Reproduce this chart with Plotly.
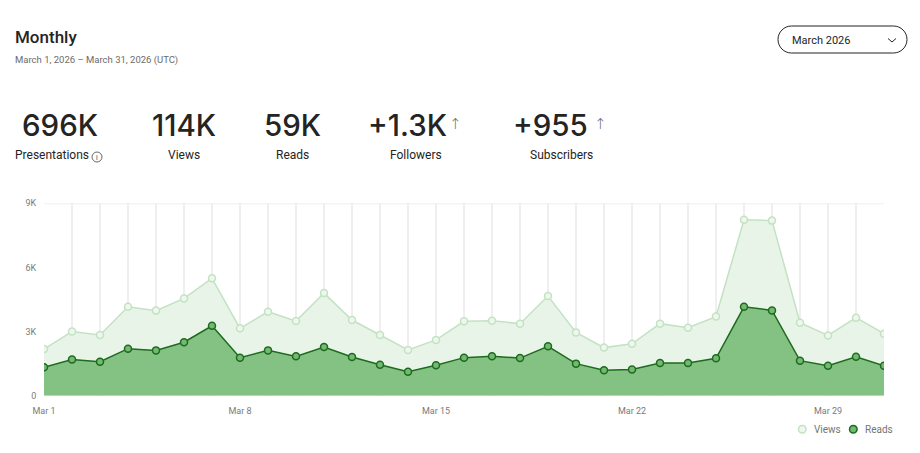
#Monthly stats dashboard - views and reads per day, March 2026
import pandas as pd
import plotly.graph_objects as go

W, H = 920, 453

# daily values
days = pd.date_range("2026-03-01", "2026-03-31", freq="D")
views = [2180, 3000, 2840, 4160, 3980, 4550, 5490, 3150, 3930, 3490,
         4800, 3540, 2840, 2140, 2610, 3480, 3510, 3370, 4660, 2960,
         2250, 2430, 3370, 3180, 3700, 8230, 8190, 3410, 2820, 3650, 2900]
reads = [1330, 1690, 1590, 2200, 2120, 2500, 3270, 1780, 2120, 1840,
         2280, 1810, 1450, 1120, 1420, 1780, 1840, 1760, 2310, 1500,
         1190, 1230, 1530, 1530, 1750, 4160, 3990, 1640, 1400, 1820, 1400]

y_tickvals = [0, 3000, 6000, 9000]
y_ticktext = ["0", "3K", "6K", "9K"]
x_tickvals = ["2026-03-01", "2026-03-08", "2026-03-15", "2026-03-22", "2026-03-29"]
x_ticktext = ["Mar 1", "Mar 8", "Mar 15", "Mar 22", "Mar 29"]

stat_values = ["696K", "114K", "59K", "+1.3K", "+955"]
stat_labels = ["Presentations", "Views", "Reads", "Followers", "Subscribers"]

FONT = "Roboto"
BIG_FONT = "Inter"
DARK = "#242424"
GREY = "#6b6b6b"
AXIS_GREY = "#7a7a7a"
GRID = "#efefef"


def px(x):
    return x / W


def py(y):
    return 1 - y / H


fig = go.Figure()

fig.add_trace(go.Scatter(
    x=days, y=views, name="Views",
    mode="lines+markers",
    fill="tozeroy", fillcolor="#e8f4e8",
    line=dict(color="#c3e2c3", width=1.5),
    marker=dict(size=7, color="#eef7ee", line=dict(color="#c3e2c3", width=1.5)),
    showlegend=False, hoverinfo="skip"))

fig.add_trace(go.Scatter(
    x=days, y=reads, name="Reads",
    mode="lines+markers",
    fill="tozeroy", fillcolor="#84c284",
    line=dict(color="#1d6b1d", width=1.5),
    marker=dict(size=7, color="#74b874", line=dict(color="#1d6b1d", width=1.5)),
    showlegend=False, hoverinfo="skip"))

"""$$$$$$$$$$$$$$$ FORMATTING $$$$$$$$$$$$$$$$"""
fig.update_layout(
    width=W, height=H,
    margin=dict(l=0, r=0, t=0, b=0, pad=0, autoexpand=False),
    paper_bgcolor="white", plot_bgcolor="white",
    font=dict(family=FONT, color=DARK),
    showlegend=False)

fig.update_xaxes(
    domain=[px(44), px(884)],
    range=["2026-03-01", "2026-03-31"],
    tickvals=x_tickvals, ticktext=x_ticktext,
    tickfont=dict(size=9, color=AXIS_GREY, family=FONT),
    ticks="outside", ticklen=6, tickcolor="rgba(0,0,0,0)",
    showgrid=True, gridcolor=GRID, gridwidth=2,
    minor=dict(dtick=86400000, tick0="2026-03-01", showgrid=True,
               gridcolor=GRID, gridwidth=2),
    showline=False, zeroline=False, fixedrange=True, automargin=False)

fig.update_yaxes(
    domain=[py(395.7), py(203.3)],
    range=[0, 9000],
    tickvals=y_tickvals, ticktext=y_ticktext,
    tickfont=dict(size=9, color=AXIS_GREY, family=FONT),
    ticks="outside", ticklen=5, tickcolor="rgba(0,0,0,0)",
    showgrid=False, zeroline=False, showline=False, fixedrange=True,
    automargin=False)

# top border line at 9K
fig.add_shape(type="line", xref="x domain", yref="y",
              x0=0, x1=1, y0=9000, y1=9000,
              line=dict(color=GRID, width=2), layer="below")

# header
fig.add_annotation(text="Monthly", x=px(13), y=py(37), xref="paper", yref="paper",
                   xanchor="left", yanchor="middle", showarrow=False,
                   font=dict(size=17, color=DARK, family=FONT, weight=500))
fig.add_annotation(text="March 1, 2026 – March 31, 2026 (UTC)", x=px(13), y=py(60),
                   xref="paper", yref="paper", xanchor="left", yanchor="middle",
                   showarrow=False, font=dict(size=9.5, color=GREY, family=FONT))

# dropdown pill
x0, x1, y0, y1 = 778, 907, 26, 53
r = (y1 - y0) / 2
k = 0.5523 * r
pts = [
    f"M {px(x0 + r)} {py(y0)}", f"L {px(x1 - r)} {py(y0)}",
    f"C {px(x1 - r + k)} {py(y0)} {px(x1)} {py(y0 + r - k)} {px(x1)} {py(y0 + r)}",
    f"C {px(x1)} {py(y0 + r + k)} {px(x1 - r + k)} {py(y1)} {px(x1 - r)} {py(y1)}",
    f"L {px(x0 + r)} {py(y1)}",
    f"C {px(x0 + r - k)} {py(y1)} {px(x0)} {py(y1 - r + k)} {px(x0)} {py(y1 - r)}",
    f"C {px(x0)} {py(y0 + r - k)} {px(x0 + r - k)} {py(y0)} {px(x0 + r)} {py(y0)}", "Z"]
fig.add_shape(type="path", xref="paper", yref="paper", path=" ".join(pts),
              line=dict(color=DARK, width=1), fillcolor="white")
fig.add_shape(type="path", xref="paper", yref="paper",
              path=f"M {px(888)} {py(38.5)} L {px(892)} {py(42)} L {px(896)} {py(38.5)}",
              line=dict(color=DARK, width=1))
fig.add_annotation(text="March 2026", x=px(790), y=py(40), xref="paper", yref="paper",
                   xanchor="left", yanchor="middle", showarrow=False,
                   font=dict(size=11, color=DARK, family=FONT))

# stats row
value_left = [22, 152, 264, 368, 513]
label_center = [None, 184, 292, 416, 561]
for v, xl in zip(stat_values, value_left):
    fig.add_annotation(text=v, x=px(xl - 2), y=py(125), xref="paper", yref="paper",
                       xanchor="left", yanchor="middle", showarrow=False,
                       font=dict(size=29.5, color=DARK, family=BIG_FONT, weight=500))
for xa in [455, 600]:
    fig.add_annotation(text="↑", x=px(xa), y=py(124.5), xref="paper", yref="paper",
                       xanchor="center", yanchor="middle", showarrow=False,
                       font=dict(size=15, color=GREY, family="DejaVu Sans", weight=300))
for i, lab in enumerate(stat_labels):
    if label_center[i] is None:
        fig.add_annotation(text=lab, x=px(13), y=py(155), xref="paper", yref="paper",
                           xanchor="left", yanchor="middle", showarrow=False,
                           font=dict(size=12, color=DARK, family=FONT))
    else:
        fig.add_annotation(text=lab, x=px(label_center[i]), y=py(155), xref="paper",
                           yref="paper", xanchor="center", yanchor="middle",
                           showarrow=False, font=dict(size=12, color=DARK, family=FONT))

# info icon
fig.add_shape(type="circle", xref="paper", yref="paper",
              x0=px(92), x1=px(102), y0=py(162), y1=py(152),
              line=dict(color="#444444", width=0.8))
fig.add_annotation(text="i", x=px(97), y=py(157.5), xref="paper", yref="paper",
                   xanchor="center", yanchor="middle", showarrow=False,
                   font=dict(size=7, color="#444444", family=FONT))

# custom legend
legend_items = [("Views", 802.3, 812, "#eef7ee", "#c3e2c3"),
                ("Reads", 853.3, 863, "#74b874", "#1d6b1d")]
for name, cx, tx, fc, lc in legend_items:
    fig.add_shape(type="circle", xref="paper", yref="paper",
                  x0=px(cx - 3.8), x1=px(cx + 3.8), y0=py(429.3 + 3.8), y1=py(429.3 - 3.8),
                  line=dict(color=lc, width=1.5), fillcolor=fc)
    fig.add_annotation(text=name, x=px(tx), y=py(429.5), xref="paper", yref="paper",
                       xanchor="left", yanchor="middle", showarrow=False,
                       font=dict(size=10, color="#757575", family=FONT))

fig.write_html("out.html", config={"displayModeBar": False},
               post_script="document.body.style.margin='0';")
